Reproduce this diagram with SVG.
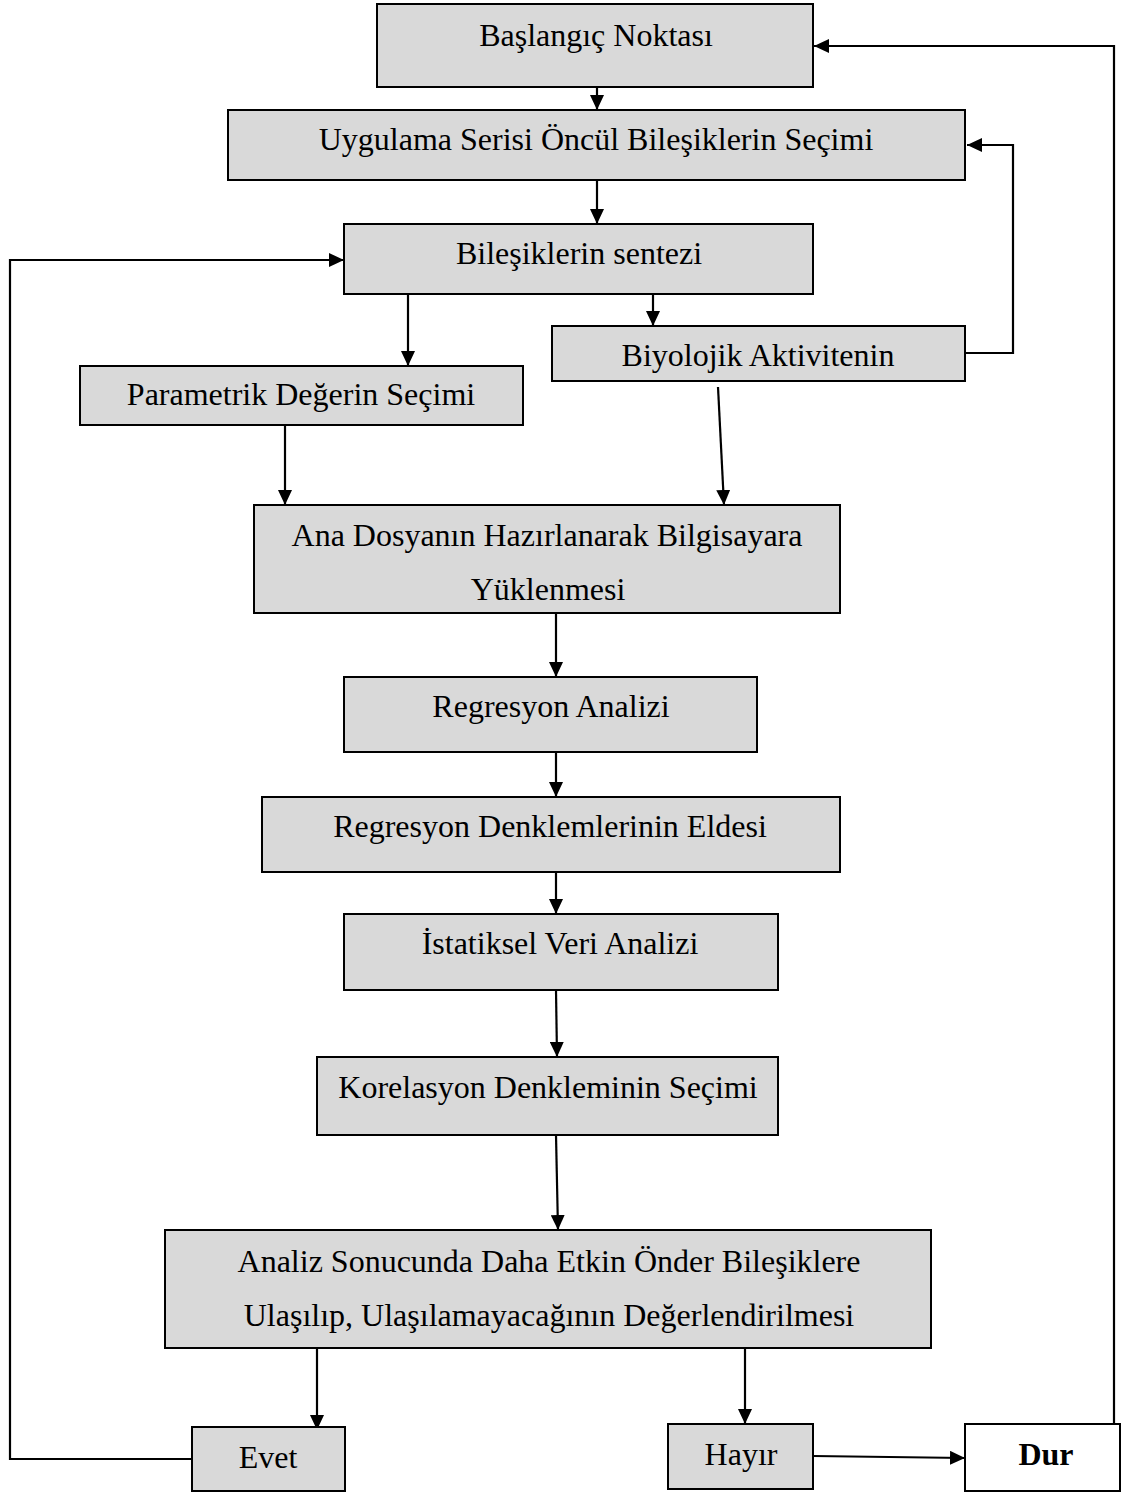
<svg xmlns="http://www.w3.org/2000/svg" width="1123" height="1492" viewBox="0 0 1123 1492">
<style>
.box{fill:#d9d9d9;stroke:#000;stroke-width:2}
.wbox{fill:#fff;stroke:#000;stroke-width:2}
.t{font-family:"Liberation Serif","Times New Roman",serif;font-size:32px;fill:#000;text-anchor:middle}
.b{font-weight:bold}
.c{fill:none;stroke:#000;stroke-width:2.2}
</style>
<defs>
<marker id="ah" markerUnits="userSpaceOnUse" markerWidth="16" markerHeight="14" refX="15" refY="7" orient="auto">
<path d="M0,0 L15,7 L0,14 z" fill="#000"/>
</marker>
</defs>
<rect width="1123" height="1492" fill="#fff"/>
<g id="connectors">
<line class="c" x1="597" y1="87" x2="597" y2="110" marker-end="url(#ah)"/>
<line class="c" x1="597" y1="180" x2="597" y2="224" marker-end="url(#ah)"/>
<line class="c" x1="408" y1="294" x2="408" y2="366" marker-end="url(#ah)"/>
<line class="c" x1="653" y1="294" x2="653" y2="326" marker-end="url(#ah)"/>
<polyline class="c" points="966,353 1013,353 1013,145 967,145" marker-end="url(#ah)"/>
<polyline class="c" points="1114,1424 1114,46 814,46" marker-end="url(#ah)"/>
<line class="c" x1="285" y1="425" x2="285" y2="505" marker-end="url(#ah)"/>
<line class="c" x1="718" y1="387" x2="724" y2="505" marker-end="url(#ah)"/>
<line class="c" x1="556" y1="613" x2="556" y2="677" marker-end="url(#ah)"/>
<line class="c" x1="556" y1="752" x2="556" y2="797" marker-end="url(#ah)"/>
<line class="c" x1="556" y1="872" x2="556" y2="914" marker-end="url(#ah)"/>
<line class="c" x1="556" y1="990" x2="557" y2="1057" marker-end="url(#ah)"/>
<line class="c" x1="556" y1="1135" x2="558" y2="1230" marker-end="url(#ah)"/>
<line class="c" x1="317" y1="1348" x2="317" y2="1430" marker-end="url(#ah)"/>
<line class="c" x1="745" y1="1348" x2="745" y2="1424" marker-end="url(#ah)"/>
<line class="c" x1="813" y1="1456" x2="965" y2="1458" marker-end="url(#ah)"/>
<polyline class="c" points="192,1459 10,1459 10,260 344,260" marker-end="url(#ah)"/>
</g>
<g id="n1"><rect class="box" x="377" y="4" width="436" height="83"/><text class="t" x="596" y="46">Başlangıç Noktası</text></g>
<g id="n2"><rect class="box" x="228" y="110" width="737" height="70"/><text class="t" x="596" y="150">Uygulama Serisi Öncül Bileşiklerin Seçimi</text></g>
<g id="n3"><rect class="box" x="344" y="224" width="469" height="70"/><text class="t" x="579" y="264">Bileşiklerin sentezi</text></g>
<g id="n4"><rect class="box" x="552" y="326" width="413" height="55"/><text class="t" x="758" y="366">Biyolojik Aktivitenin</text></g>
<g id="n5"><rect class="box" x="80" y="366" width="443" height="59"/><text class="t" x="301" y="405">Parametrik Değerin Seçimi</text></g>
<g id="n6"><rect class="box" x="254" y="505" width="586" height="108"/><text class="t" x="547" y="546">Ana Dosyanın Hazırlanarak Bilgisayara</text><text class="t" x="548" y="600">Yüklenmesi</text></g>
<g id="n7"><rect class="box" x="344" y="677" width="413" height="75"/><text class="t" x="551" y="717">Regresyon Analizi</text></g>
<g id="n8"><rect class="box" x="262" y="797" width="578" height="75"/><text class="t" x="550" y="837">Regresyon Denklemlerinin Eldesi</text></g>
<g id="n9"><rect class="box" x="344" y="914" width="434" height="76"/><text class="t" x="560" y="954">İstatiksel Veri Analizi</text></g>
<g id="n10"><rect class="box" x="317" y="1057" width="461" height="78"/><text class="t" x="548" y="1098">Korelasyon Denkleminin Seçimi</text></g>
<g id="n11"><rect class="box" x="165" y="1230" width="766" height="118"/><text class="t" x="549" y="1272">Analiz Sonucunda Daha Etkin Önder Bileşiklere</text><text class="t" x="549" y="1326">Ulaşılıp, Ulaşılamayacağının Değerlendirilmesi</text></g>
<g id="n12"><rect class="box" x="192" y="1427" width="153" height="64"/><text class="t" x="268" y="1468">Evet</text></g>
<g id="n13"><rect class="box" x="668" y="1424" width="145" height="65"/><text class="t" x="741" y="1465">Hayır</text></g>
<g id="n14"><rect class="wbox" x="965" y="1424" width="155" height="67"/><text class="t b" x="1046" y="1465">Dur</text></g>
</svg>
